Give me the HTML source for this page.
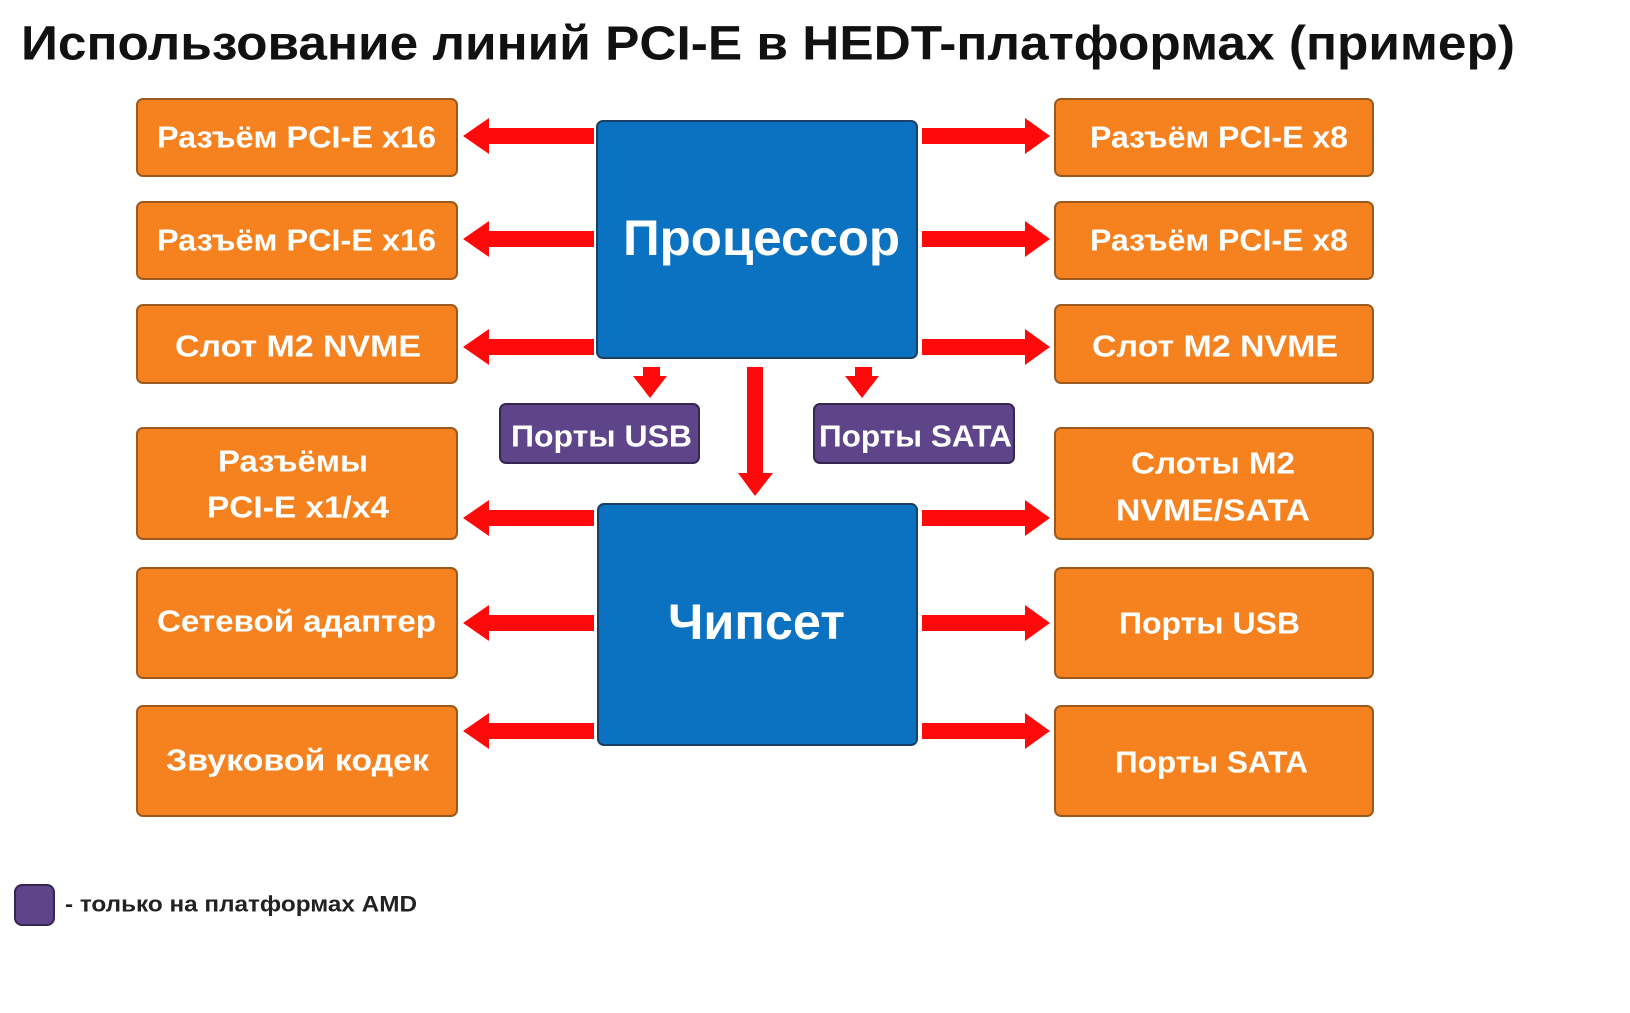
<!DOCTYPE html>
<html><head><meta charset="utf-8"><style>
html,body{margin:0;padding:0;background:#fff;width:1630px;height:1013px;overflow:hidden}
svg{display:block}
text{font-family:"Liberation Sans",sans-serif;font-weight:bold}
.o{fill:#F5821F;stroke:#9A5A1E;stroke-width:2}
.b{fill:#0A72C0;stroke:#1C3F66;stroke-width:2}
.p{fill:#5E4488;stroke:#352750;stroke-width:2}
.w{fill:#fff}
.r{fill:#FF0A0A}
</style></head><body>
<svg width="1630" height="1013" viewBox="0 0 1630 1013" xmlns="http://www.w3.org/2000/svg">
<text x="21" y="44" dominant-baseline="central" font-size="48" textLength="1494" lengthAdjust="spacingAndGlyphs" fill="#111">Использование линий PCI-E в HEDT-платформах (пример)</text>

<rect class="o" x="137" y="99" width="320" height="77" rx="6"/>
<rect class="o" x="137" y="202" width="320" height="77" rx="6"/>
<rect class="o" x="137" y="305" width="320" height="78" rx="6"/>
<rect class="o" x="137" y="428" width="320" height="111" rx="6"/>
<rect class="o" x="137" y="568" width="320" height="110" rx="6"/>
<rect class="o" x="137" y="706" width="320" height="110" rx="6"/>
<rect class="o" x="1055" y="99" width="318" height="77" rx="6"/>
<rect class="o" x="1055" y="202" width="318" height="77" rx="6"/>
<rect class="o" x="1055" y="305" width="318" height="78" rx="6"/>
<rect class="o" x="1055" y="428" width="318" height="111" rx="6"/>
<rect class="o" x="1055" y="568" width="318" height="110" rx="6"/>
<rect class="o" x="1055" y="706" width="318" height="110" rx="6"/>

<rect class="b" x="597" y="121" width="320" height="237" rx="6"/>
<rect class="b" x="598" y="504" width="319" height="241" rx="6"/>
<rect class="p" x="500" y="404" width="199" height="59" rx="6"/>
<rect class="p" x="814" y="404" width="200" height="59" rx="6"/>

<g class="w" font-size="31" dominant-baseline="central">
<text x="157" y="137" textLength="279" lengthAdjust="spacingAndGlyphs">Разъём PCI-E x16</text>
<text x="157" y="240" textLength="279" lengthAdjust="spacingAndGlyphs">Разъём PCI-E x16</text>
<text x="175" y="346" textLength="246" lengthAdjust="spacingAndGlyphs">Слот M2 NVME</text>
<text x="218" y="461" textLength="150" lengthAdjust="spacingAndGlyphs">Разъёмы</text>
<text x="207" y="507" textLength="182" lengthAdjust="spacingAndGlyphs">PCI-E x1/x4</text>
<text x="157" y="621" textLength="279" lengthAdjust="spacingAndGlyphs">Сетевой адаптер</text>
<text x="166" y="760" textLength="263" lengthAdjust="spacingAndGlyphs">Звуковой кодек</text>
<text x="1090" y="137" textLength="258" lengthAdjust="spacingAndGlyphs">Разъём PCI-E x8</text>
<text x="1090" y="240" textLength="258" lengthAdjust="spacingAndGlyphs">Разъём PCI-E x8</text>
<text x="1092" y="346" textLength="246" lengthAdjust="spacingAndGlyphs">Слот M2 NVME</text>
<text x="1131" y="463" textLength="164" lengthAdjust="spacingAndGlyphs">Слоты M2</text>
<text x="1116" y="510" textLength="194" lengthAdjust="spacingAndGlyphs">NVME/SATA</text>
<text x="1119" y="623" textLength="181" lengthAdjust="spacingAndGlyphs">Порты USB</text>
<text x="1115" y="762" textLength="193" lengthAdjust="spacingAndGlyphs">Порты SATA</text>
<text x="511" y="436" textLength="181" lengthAdjust="spacingAndGlyphs">Порты USB</text>
<text x="819" y="436" textLength="193" lengthAdjust="spacingAndGlyphs">Порты SATA</text>
<text x="623" y="238" font-size="50" textLength="277" lengthAdjust="spacingAndGlyphs">Процессор</text>
<text x="668" y="622" font-size="50" textLength="177" lengthAdjust="spacingAndGlyphs">Чипсет</text>
</g>

<defs>
<path id="la" d="M0,-8 L-105,-8 L-105,-18 L-131,0 L-105,18 L-105,8 L0,8 Z"/>
<path id="ra" d="M0,-8 L103,-8 L103,-18 L128,0 L103,18 L103,8 L0,8 Z"/>
</defs>
<g class="r">
<use href="#la" x="594" y="136"/><use href="#la" x="594" y="239"/><use href="#la" x="594" y="347"/>
<use href="#la" x="594" y="518"/><use href="#la" x="594" y="623"/><use href="#la" x="594" y="731"/>
<use href="#ra" x="922" y="136"/><use href="#ra" x="922" y="239"/><use href="#ra" x="922" y="347"/>
<use href="#ra" x="922" y="518"/><use href="#ra" x="922" y="623"/><use href="#ra" x="922" y="731"/>
<path d="M643,367 L660,367 L660,376 L667,376 L650,398 L633,376 L643,376 Z"/>
<path d="M855,367 L872,367 L872,376 L879,376 L862,398 L845,376 L855,376 Z"/>
<path d="M747,367 L763,367 L763,473 L773,473 L755,496 L738,473 L747,473 Z"/>
</g>

<rect x="15" y="885" width="39" height="40" rx="7" fill="#5E4488" stroke="#352750" stroke-width="2"/>
<text x="65" y="904" dominant-baseline="central" font-size="22" textLength="352" lengthAdjust="spacingAndGlyphs" fill="#222">- только на платформах AMD</text>
</svg>
</body></html>
